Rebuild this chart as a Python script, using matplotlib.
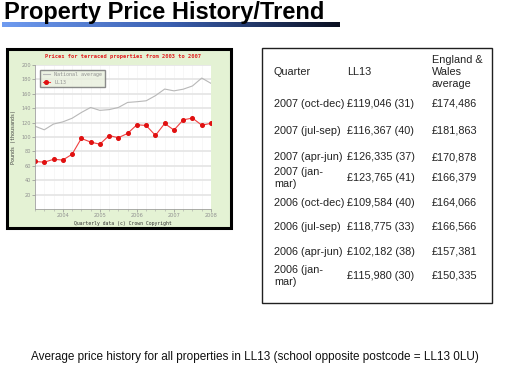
import numpy as np
import matplotlib
matplotlib.use("Agg")
import matplotlib.pyplot as plt
from matplotlib.patches import Rectangle
from matplotlib.colors import LinearSegmentedColormap

# quarterly data, 2003 Q1 .. 2007 Q4 (plotted at end of quarter)
quarters = [2003.25 + 0.25 * i for i in range(20)]
national = [115, 110, 118, 121, 126, 134, 141, 137, 138, 141, 148, 149,
            150.3, 157.4, 166.6, 164.1, 166.4, 170.9, 181.9, 174.5]
ll13 = [66, 65, 69, 68, 76, 98, 93, 90, 102, 99, 105, 117,
        116.0, 102.2, 118.8, 109.6, 123.8, 126.3, 116.4, 119.0]
year_ticks = [2004, 2005, 2006, 2007, 2008]

# table
table_header = ["Quarter", "LL13", "England &\nWales\naverage"]
table_quarter = ["2007 (oct-dec)", "2007 (jul-sep)", "2007 (apr-jun)", "2007 (jan-\nmar)",
                 "2006 (oct-dec)", "2006 (jul-sep)", "2006 (apr-jun)", "2006 (jan-\nmar)"]
table_ll13 = ["£119,046 (31)", "£116,367 (40)", "£126,335 (37)", "£123,765 (41)",
              "£109,584 (40)", "£118,775 (33)", "£102,182 (38)", "£115,980 (30)"]
table_avg = ["£174,486", "£181,863", "£170,878", "£166,379",
             "£164,066", "£166,566", "£157,381", "£150,335"]

W, H = 515, 370
fig = plt.figure(figsize=(W / 100, H / 100), dpi=100)
fig.patch.set_facecolor("white")


def fx(px):
    return px / W


def fy(py):
    return 1 - py / H


# ----------------------------------
# Page title + gradient underline
# ----------------------------------
fig.text(fx(4), fy(19), "Property Price History/Trend", fontsize=17, fontweight="bold",
         family="Liberation Sans", va="baseline", ha="left", color="black")
grad_ax = fig.add_axes([fx(2), fy(27), fx(338), 5 / H])
grad = np.linspace(0, 1, 256).reshape(1, -1)
cmap = LinearSegmentedColormap.from_list("ul", ["#6f9bf0", "#3a5fb0", "#0a0f20"])
grad_ax.imshow(grad, aspect="auto", cmap=cmap)
grad_ax.axis("off")

# ----------------------------------
# Chart panel
# ----------------------------------
fig.patches.append(Rectangle((fx(7), fy(228)), fx(224), (228 - 49) / H,
                             transform=fig.transFigure, facecolor="#e4f2d4",
                             edgecolor="black", linewidth=2.2, zorder=-5))

ax = fig.add_axes([fx(35), fy(209), fx(176), (209 - 65) / H])
ax.set_facecolor("white")
ax.plot(quarters, national, color="#b8b8b8", linewidth=0.8, label="National average")
ax.plot(quarters, ll13, color="#f04040", linewidth=0.8, marker="o", markersize=2.6,
        markerfacecolor="#e01010", markeredgecolor="#e01010", label="LL13")
ax.set_xlim(2003.25, 2008)
ax.set_ylim(0, 200)
ax.set_yticks(range(20, 201, 20))
ax.set_xticks(year_ticks)
ax.set_xticks(quarters, minor=True)
ax.grid(axis="y", color="#e4e4e4", linewidth=1.2)
ax.grid(axis="x", which="both", color="#f4f4f4", linewidth=0.5)
ax.set_axisbelow(True)
for s in ["top", "right"]:
    ax.spines[s].set_visible(False)
for s in ["left", "bottom"]:
    ax.spines[s].set_color("#a0a0a0")
    ax.spines[s].set_linewidth(0.6)
ax.tick_params(labelsize=3.6, colors="#909090", length=2, width=0.5, pad=1)
ax.tick_params(which="minor", length=1.5, width=0.4, color="#a0a0a0")
ax.set_ylabel("Pounds (thousands)", fontsize=3.6, family="DejaVu Sans Mono",
              color="#404040", labelpad=4)
ax.set_xlabel("Quarterly data (c) Crown Copyright", fontsize=3.4,
              family="DejaVu Sans Mono", color="#303030", labelpad=2)
ax.set_title("Prices for terraced properties from 2003 to 2007", fontsize=3.9,
             family="DejaVu Sans Mono", fontweight="bold", color="#e02020", pad=5)
leg = ax.legend(loc="upper left", fontsize=3.6, frameon=True, fancybox=False,
                borderpad=0.5, handlelength=1.5, bbox_to_anchor=(0.015, 0.985))
leg.get_frame().set_facecolor("#e8efdc")
leg.get_frame().set_edgecolor("#707070")
leg.get_frame().set_linewidth(1.0)
for t in leg.get_texts():
    t.set_color("#909090")
    t.set_family("DejaVu Sans Mono")

# ----------------------------------
# Table box
# ----------------------------------
fig.patches.append(Rectangle((fx(262), fy(303)), fx(230), (303 - 48) / H,
                             transform=fig.transFigure, facecolor="white",
                             edgecolor="#202020", linewidth=1.0, zorder=-5))

col_x = [274, 347, 432]
tkw = dict(fontsize=7.8, family="Liberation Sans", va="center", ha="left",
           color="#222222", linespacing=1.25)
fig.text(fx(col_x[0]), fy(72), table_header[0], **tkw)
fig.text(fx(col_x[1]), fy(72), table_header[1], **tkw)
fig.text(fx(col_x[2]), fy(72), table_header[2], **tkw)
row_y = [104, 131, 157, 178, 203, 227, 252, 276]
for y, q, a, b in zip(row_y, table_quarter, table_ll13, table_avg):
    fig.text(fx(col_x[0]), fy(y), q, **tkw)
    fig.text(fx(col_x[1]), fy(y), a, **tkw)
    fig.text(fx(col_x[2]), fy(y), b, **tkw)

# ----------------------------------
# Caption
# ----------------------------------
fig.text(fx(255), fy(357),
         "Average price history for all properties in LL13 (school opposite postcode = LL13 0LU)",
         fontsize=8.5, family="Liberation Sans", ha="center", va="center", color="#111111")

fig.savefig("out.png", dpi=100)
